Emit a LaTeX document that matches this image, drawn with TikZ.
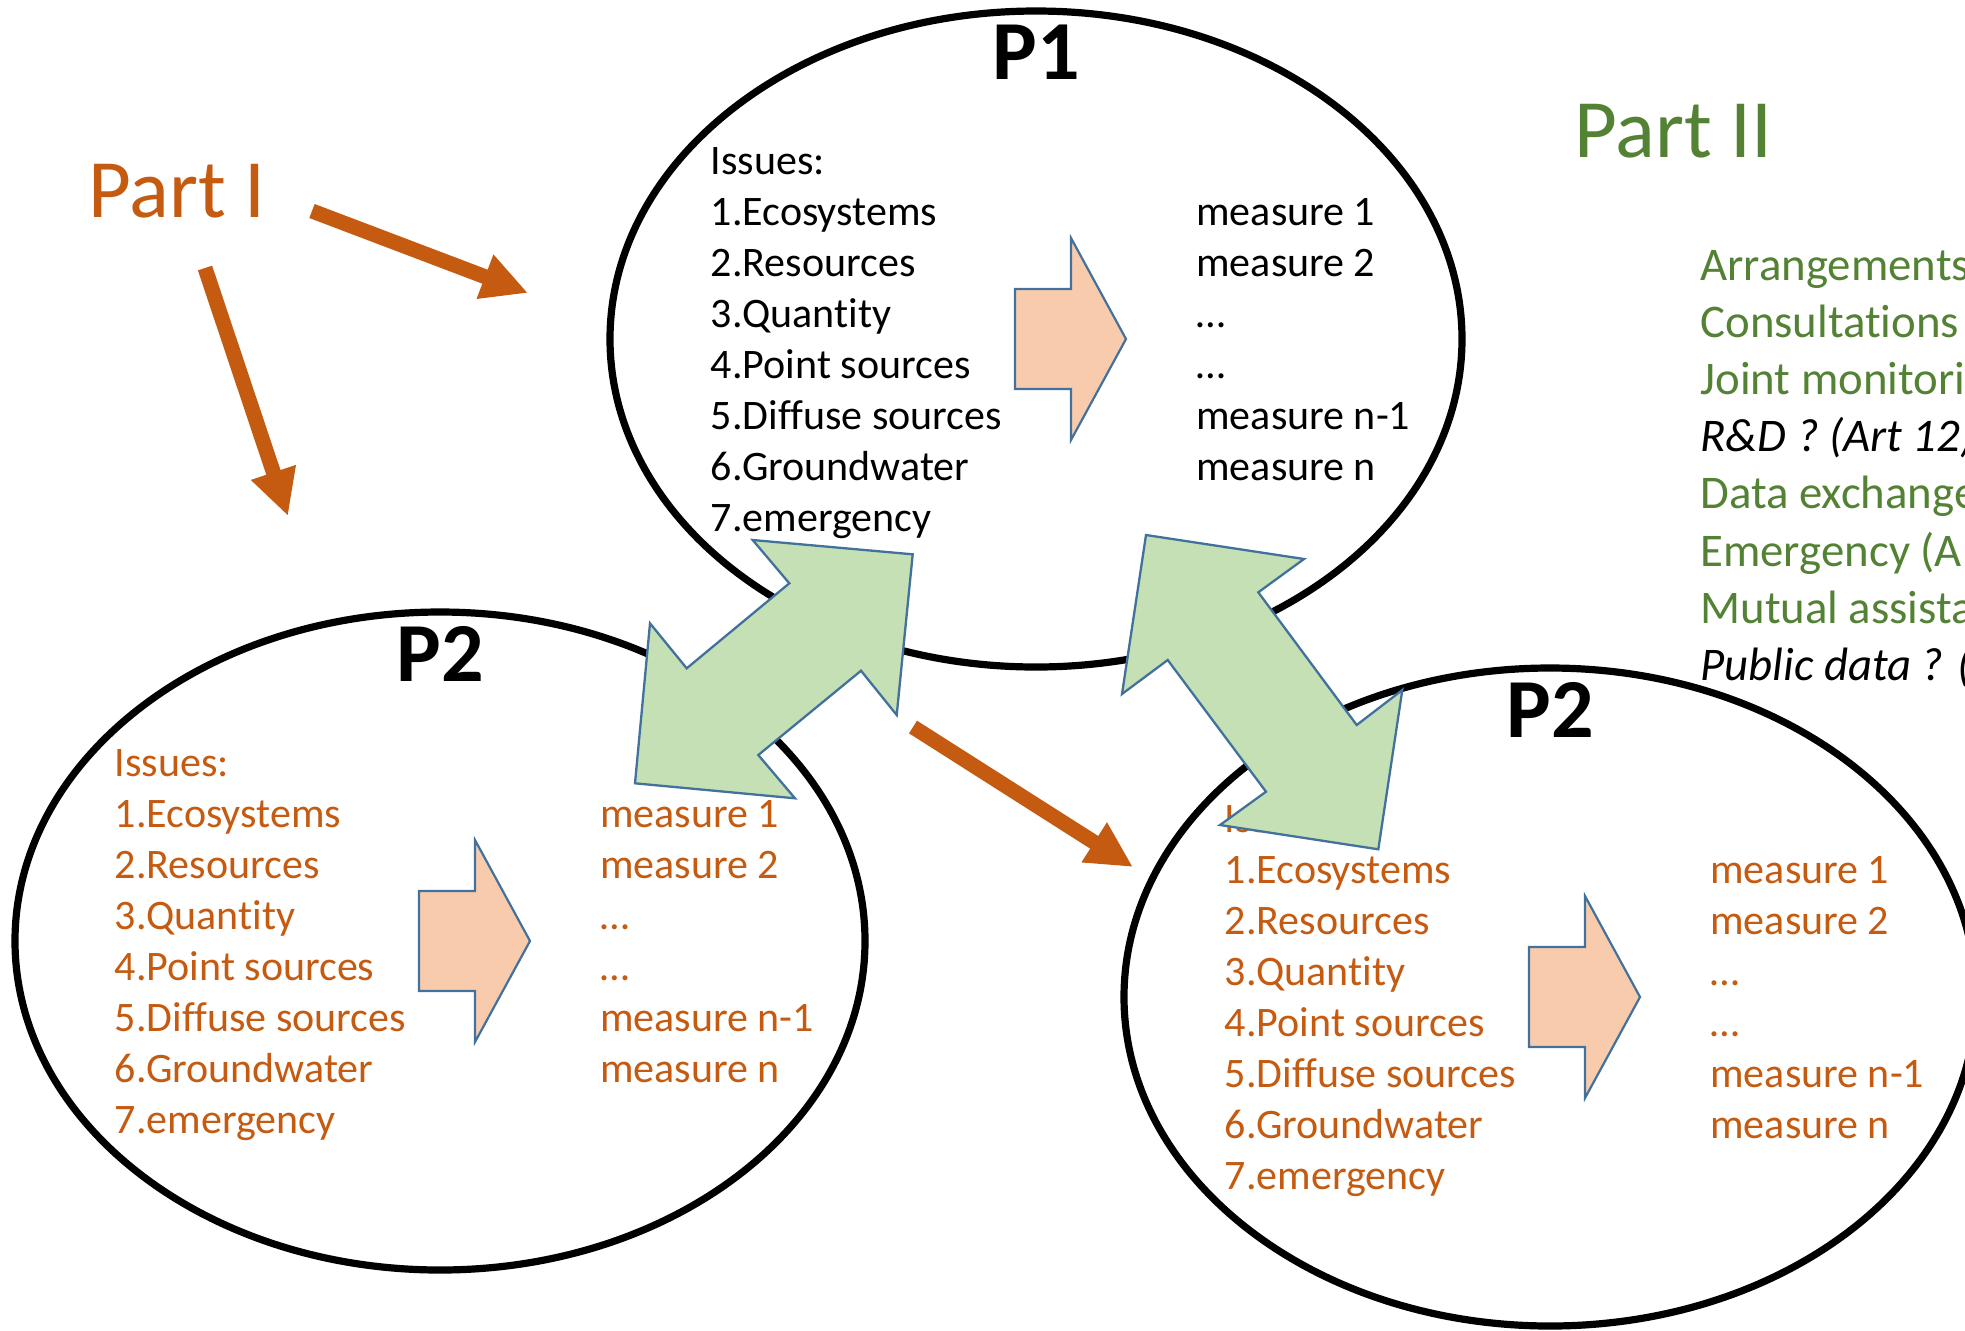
\documentclass[tikz,border=0pt]{standalone}
\usepackage{fontspec}
\setmainfont{Carlito}[Ligatures=NoCommon]
\usepackage{tikz}
\usetikzlibrary{arrows.meta}
\definecolor{partone}{HTML}{C55A11}
\definecolor{parttwo}{HTML}{548235}
\definecolor{peach}{HTML}{F8CBAD}
\definecolor{mint}{HTML}{C5E0B4}
\definecolor{edgeblue}{HTML}{41719C}
\begin{document}
\begin{tikzpicture}[x=0.5pt, y=-0.5pt,
	ring/.style={line width=3.6pt, black},
	plabel/.style={anchor=base, inner sep=0pt, font=\fontsize{42}{50}\selectfont\bfseries},
	issue/.style={anchor=base west, inner sep=0pt, font=\fontsize{21}{25.5}\selectfont},
	partlabel/.style={anchor=base west, inner sep=0pt, font=\fontsize{41.5}{48}\selectfont},
	article/.style={anchor=base west, inner sep=0pt, font=\fontsize{23.4}{28}\selectfont, parttwo},
	shiftarrow/.style={fill=peach, draw=edgeblue, line width=1.1pt, line join=miter},
	linkarrow/.style={fill=mint, draw=edgeblue, line width=1.15pt, line join=miter},
	flow/.style={partone, line width=7.5pt, -{Triangle[width=22pt, length=23pt]}}]
					\path[use as bounding box, clip] (0,0) rectangle (1965,1330);
					\begin{scope}[shift={(1036,339)}]
						\draw[ring] (0,0) ellipse [x radius=426, y radius=328];
						\node[plabel] (p1) at (0,-260) {P1};
						\foreach \t [count=\i from 0] in {Issues:,1.Ecosystems,2.Resources,3.Quantity,4.Point sources,5.Diffuse sources,6.Groundwater,7.emergency}
							\node[issue] (p1i\i) at (-325.5,-165+51*\i) {\t};
						\foreach \t [count=\i from 1] in {measure 1,measure 2,…,…,measure n-1,measure n}
							\node[issue] (p1m\i) at (160,-165+51*\i) {\t};
						\draw[shiftarrow] (-21,-50) -- (35,-50) -- (35,-101) -- (90,0) -- (35,101) -- (35,50) -- (-21,50) -- cycle;
					\end{scope}
					\begin{scope}[shift={(440,941)}]
						\draw[ring] (0,0) ellipse [x radius=425, y radius=329];
						\node[plabel] (p2a) at (0,-260) {P2};
						\foreach \t [count=\i from 0] in {Issues:,1.Ecosystems,2.Resources,3.Quantity,4.Point sources,5.Diffuse sources,6.Groundwater,7.emergency}
							\node[issue, partone] (p2ai\i) at (-325.5,-165+51*\i) {\t};
						\foreach \t [count=\i from 1] in {measure 1,measure 2,…,…,measure n-1,measure n}
							\node[issue, partone] (p2am\i) at (160,-165+51*\i) {\t};
						\draw[shiftarrow] (-21,-50) -- (35,-50) -- (35,-101) -- (90,0) -- (35,101) -- (35,50) -- (-21,50) -- cycle;
					\end{scope}
					\begin{scope}[shift={(1550,997)}]
						\draw[ring] (0,0) ellipse [x radius=426, y radius=329];
						\node[plabel] (p2b) at (0,-260) {P2};
						\foreach \t [count=\i from 0] in {Issues:,1.Ecosystems,2.Resources,3.Quantity,4.Point sources,5.Diffuse sources,6.Groundwater,7.emergency}
							\node[issue, partone] (p2bi\i) at (-325.5,-165+51*\i) {\t};
						\foreach \t [count=\i from 1] in {measure 1,measure 2,…,…,measure n-1,measure n}
							\node[issue, partone] (p2bm\i) at (160,-165+51*\i) {\t};
						\draw[shiftarrow] (-21,-50) -- (35,-50) -- (35,-101) -- (90,0) -- (35,101) -- (35,50) -- (-21,50) -- cycle;
					\end{scope}
					\draw[linkarrow] (752.7,540) -- (912.7,554.3) -- (896.7,715) -- (861,670.7) -- (758.3,755) -- (795,798.3) -- (635,783.3) -- (650,623.3) -- (686.7,668.3) -- (789.3,583.3) -- cycle;
					\draw[linkarrow] (1146,535) -- (1304,559) -- (1258.3,592.3) -- (1356.7,725) -- (1402.3,690) -- (1378.3,849.3) -- (1220,825) -- (1266,791.7) -- (1167.7,660) -- (1122,694) -- cycle;
					\node[partlabel, partone] (partI) at (88,217) {Part I};
					\node[partlabel, parttwo] (partII) at (1574,157) {Part II};
					\coordinate (aFrom) at (312,211);
					\coordinate (aTo) at (528,293);
					\coordinate (bFrom) at (205,268);
					\coordinate (bTo) at (288,516);
					\coordinate (cFrom) at (913,727);
					\coordinate (cTo) at (1133,867);
					\draw[flow] (aFrom) -- (aTo);
					\draw[flow] (bFrom) -- (bTo);
					\draw[flow] (cFrom) -- (cTo);
					\node[article] (art9) at (1700,280) {Arrangements};
					\node[article] (art10) at (1700,337) {Consultations};
					\node[article] (art11) at (1700,394) {Joint monitoring};
					\node[article, black, font=\fontsize{23.4}{28}\selectfont\itshape] (art12) at (1700,451) {R\&D ? (Art 12)};
					\node[article] (art13) at (1700,508) {Data exchange};
					\node[article] (art14) at (1700,566) {Emergency (Art 14)};
					\node[article] (art15) at (1700,623) {Mutual assistance};
					\node[article, black, font=\fontsize{23.4}{28}\selectfont\itshape] (art16) at (1700,680) {Public data ? (Art 16)};
				\end{tikzpicture}
\end{document}
